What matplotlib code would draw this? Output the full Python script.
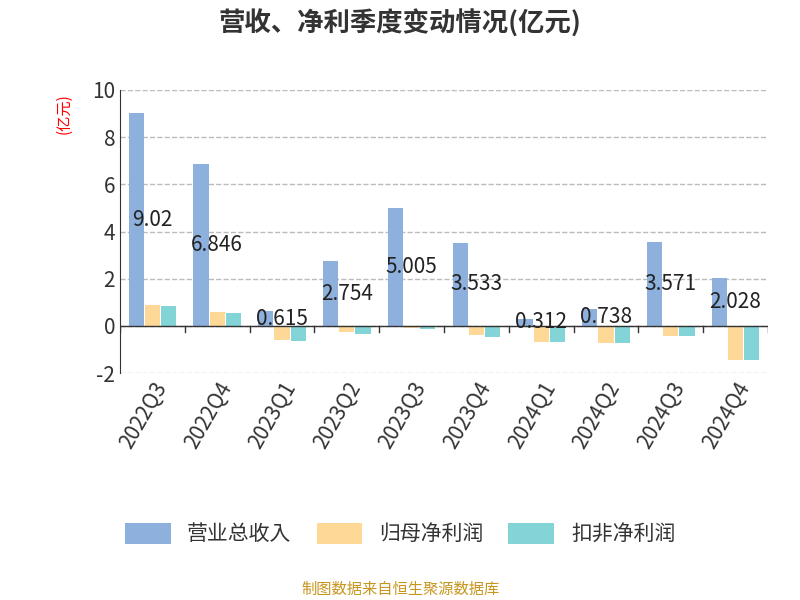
import matplotlib.pyplot as plt
from matplotlib import font_manager
import numpy as np

names = {f.name for f in font_manager.fontManager.ttflist}
cjk = [n for n in ['Noto Sans CJK SC', 'Noto Sans CJK JP', 'Noto Sans CJK TC', 'Noto Sans CJK KR']
       if n in names]
plt.rcParams['font.family'] = cjk + ['DejaVu Sans']
plt.rcParams['axes.unicode_minus'] = False

quarters = ['2022Q3', '2022Q4', '2023Q1', '2023Q2', '2023Q3', '2023Q4',
            '2024Q1', '2024Q2', '2024Q3', '2024Q4']
revenue = [9.02, 6.846, 0.615, 2.754, 5.005, 3.533, 0.312, 0.738, 3.571, 2.028]
net_profit = [0.88, 0.60, -0.61, -0.26, -0.10, -0.37, -0.67, -0.71, -0.43, -1.42]
net_profit_ex = [0.85, 0.57, -0.64, -0.33, -0.13, -0.48, -0.68, -0.74, -0.43, -1.45]

fig = plt.figure(figsize=(8, 6), dpi=100)
ax = fig.add_axes([0.15, 0.378, 0.81, 0.472])

x = np.arange(len(quarters))
w = 0.25
ax.bar(x - w, revenue, w * 0.95, color='#8eb0dc', label='营业总收入')
ax.bar(x, net_profit, w * 0.95, color='#fed897', label='归母净利润')
ax.bar(x + w, net_profit_ex, w * 0.95, color='#82d4d6', label='扣非净利润')

for xi, v in zip(x, revenue):
    ax.text(xi, v / 2, f'{v:g}', ha='center', va='center', fontsize=15, color='#222222')

ax.set_xlim(-0.5, len(quarters) - 0.5)
ax.set_ylim(-2, 10)
ax.set_yticks([-2, 0, 2, 4, 6, 8, 10])
ax.tick_params(axis='y', labelsize=15, length=0, colors='#333333')
ax.set_xticks(x)
ax.set_xticklabels(quarters, rotation=60, ha='right', rotation_mode='anchor', fontsize=15,
                   color='#333333')
ax.tick_params(axis='x', length=0)
for b in np.arange(len(quarters) + 1) - 0.5:
    ax.plot([b, b], [0, -0.25], color='#333333', lw=1)
ax.axhline(0, color='#333333', lw=1)
ax.grid(axis='y', ls='--', color='#bbbbbb', lw=1)
ax.set_axisbelow(True)
for s in ['top', 'right', 'bottom']:
    ax.spines[s].set_visible(False)
ax.spines['left'].set_color('#333333')

fig.text(0.08, 0.81, '(亿元)', color='red', rotation=90, fontsize=11, ha='center', va='center')
fig.text(0.5, 0.96, '营收、净利季度变动情况(亿元)', ha='center', va='center',
         fontsize=19, fontweight='bold', color='#333333')
fig.legend(loc='center', bbox_to_anchor=(0.5, 0.11), ncol=3, frameon=False, fontsize=15,
           handlelength=2.2, handleheight=1.2, columnspacing=1.2, labelcolor='#333333')
fig.text(0.5, 0.018, '制图数据来自恒生聚源数据库', ha='center', va='center',
         fontsize=11, color='#c8961e')

fig.savefig('out.png', dpi=100)
